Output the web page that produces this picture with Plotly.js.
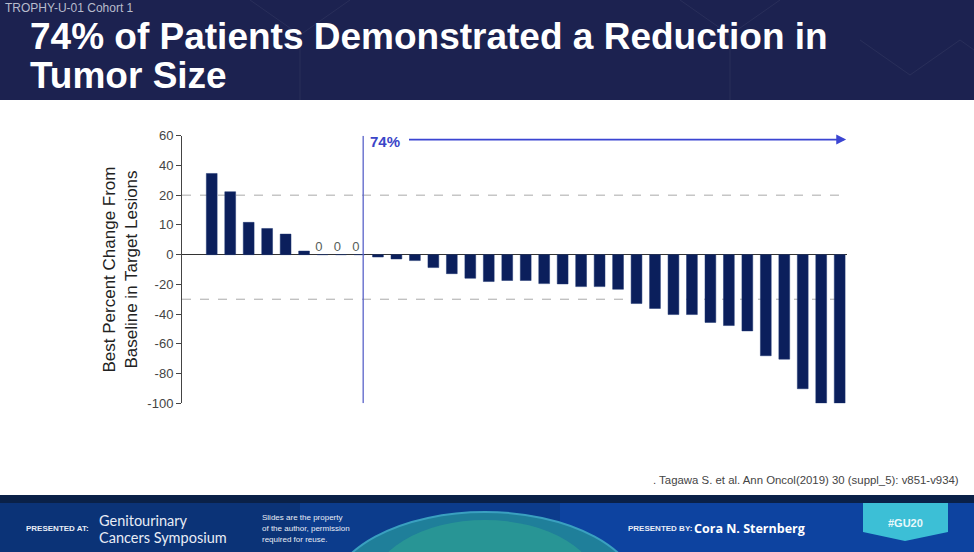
<!DOCTYPE html>
<html><head><meta charset="utf-8">
<script src="https://cdn.plot.ly/plotly-3.0.1.min.js"></script>
<style>html,body{margin:0;padding:0;background:#fff}#chart{width:974px;height:552px}</style>
</head><body><div id="chart"></div><script>
// Patients (one bar each), ordered as in the waterfall plot
const patientIds = [1,2,3,4,5,6,7,8,9,10,11,12,13,14,15,16,17,18,19,20,21,22,23,24,25,26,27,28,29,30,31,32,33,34,35];
// Best % change, in the plot's own axis units (positive side uses the printed tick labels below)
const bestChange = [54.6,42.3,21.7,17.6,13.8,2.4,0,0,0,-1.6,-2.9,-4,-8.7,-12.8,-15.9,-18.1,-17.4,-17.4,-19.5,-19.7,-21.5,-21.5,-23.3,-32.9,-36.2,-40.3,-40.3,-45.6,-47.7,-51.3,-68,-70.3,-90.2,-100,-100];
// Y axis ticks as printed on the slide
const yTickVals = [-100,-80,-60,-40,-20,0,20,40,60,80];
const yTickText = ['-100','-80','-60','-40','-20','0','10','20','40','60'];
const refLines = [40, -30];   // dashed reference lines (printed "20" and -30)
const responderPct = '74%';

const zeroIds = patientIds.filter((id,i)=>bestChange[i]===0);
const zeroVals = bestChange.filter(v=>v===0);

const W=974,H=552;
const px = x=>x/W, py = y=>1-y/H;

const traces = [
  {type:'bar', x:patientIds, y:bestChange, width:0.585,
   marker:{color:'#0b1f5c', line:{color:'#1d3470', width:0.5}}, hoverinfo:'x+y'},
  {type:'scatter', mode:'text', x:zeroIds, y:zeroVals, text:zeroVals.map(String),
   textposition:'top left', textfont:{family:'Liberation Sans, Arial, sans-serif', size:13, color:'#56605a'},
   hoverinfo:'skip'}
];

const shapes = [
  // header band
  {type:'rect', xref:'paper', yref:'paper', x0:0, x1:1, y0:py(100), y1:1, fillcolor:'#1c2250', line:{width:0}, layer:'below'},
  // faint header pattern
  {type:'path', xref:'paper', yref:'paper', path:`M ${px(250)} ${py(0)} L ${px(300)} ${py(35)} L ${px(300)} ${py(100)} M ${px(300)} ${py(35)} L ${px(350)} ${py(0)}`, line:{color:'rgba(255,255,255,0.06)', width:1}, layer:'below'},
  {type:'path', xref:'paper', yref:'paper', path:`M ${px(680)} ${py(0)} L ${px(730)} ${py(35)} L ${px(730)} ${py(100)} M ${px(730)} ${py(35)} L ${px(780)} ${py(0)}`, line:{color:'rgba(255,255,255,0.06)', width:1}, layer:'below'},
  {type:'path', xref:'paper', yref:'paper', path:`M ${px(860)} ${py(40)} L ${px(910)} ${py(75)} L ${px(960)} ${py(40)} L ${px(974)} ${py(50)}`, line:{color:'rgba(255,255,255,0.06)', width:1}, layer:'below'},
  // footer
  {type:'rect', xref:'paper', yref:'paper', x0:0, x1:1, y0:0, y1:py(495), fillcolor:'#0c3c8c', line:{width:0}, layer:'below'},
  {type:'rect', xref:'paper', yref:'paper', x0:0, x1:px(300), y0:0, y1:py(503), fillcolor:'#0b3377', line:{width:0}, layer:'below'},
  {type:'rect', xref:'paper', yref:'paper', x0:px(560), x1:1, y0:0, y1:py(503), fillcolor:'#0d43a0', line:{width:0}, layer:'below'},
  {type:'circle', xref:'paper', yref:'paper', x0:px(330), x1:px(640), y0:py(680), y1:py(512), fillcolor:'#1f7f9a', line:{color:'#3aa0c0', width:2}, layer:'below'},
  {type:'circle', xref:'paper', yref:'paper', x0:px(370), x1:px(600), y0:py(660), y1:py(520), fillcolor:'#2a9b93', line:{width:0}, opacity:0.8, layer:'below'},
  {type:'rect', xref:'paper', yref:'paper', x0:0, x1:1, y0:py(503), y1:py(495), fillcolor:'#0a2148', line:{width:0}, layer:'below'},
  // #GU20 badge
  {type:'path', xref:'paper', yref:'paper', path:`M ${px(863)} ${py(503)} L ${px(948)} ${py(503)} L ${px(948)} ${py(532)} L ${px(905)} ${py(541)} L ${px(863)} ${py(532)} Z`, fillcolor:'#3cbfd6', line:{width:0}, layer:'below'},
  // reference dashed lines
  ...refLines.map(v=>({type:'line', xref:'x', yref:'y', x0:-0.61, x1:35.3, y0:v, y1:v, line:{color:'#a9a9a9', width:1, dash:'dash'}, layer:'below'})),
  // responder divider
  {type:'line', xref:'x', yref:'y', x0:9.2, x1:9.2, y0:-100, y1:80, line:{color:'#5a63c9', width:1.3}}
];

const F = 'Liberation Sans, Arial, sans-serif';
const ann = (x,y,text,opt)=>Object.assign({xref:'paper', yref:'paper', x:px(x), y:py(y), text, showarrow:false, xanchor:'left', yanchor:'middle', font:{family:F, size:12, color:'#fff'}}, opt||{});

const annotations = [
  ann(3,8,'TROPHY-U-01 Cohort 1',{font:{family:F,size:12,color:'#b8bccc'}}),
  ann(28,37,'<b>74% of Patients Demonstrated a Reduction in</b>',{font:{family:F,size:37,color:'#fff'}}),
  ann(28,76,'<b>Tumor Size</b>',{font:{family:F,size:37,color:'#fff'}}),
  // arrow
  {xref:'x', yref:'y', x:35.35, y:77.4, ax:11.6, ay:77.4, axref:'x', ayref:'y', text:'', showarrow:true, arrowhead:2, arrowsize:1.1, arrowwidth:1.8, arrowcolor:'#3b45d2'},
  {xref:'x', yref:'y', x:10.4, y:76.2, text:'<b>'+responderPct+'</b>', showarrow:false, xanchor:'center', yanchor:'middle', font:{family:F,size:15,color:'#3b45c8'}},
  ann(961,480,'. Tagawa S. et al. Ann Oncol(2019) 30 (suppl_5): v851-v934)',{xanchor:'right', font:{family:F,size:11.4,color:'#444'}}),
  ann(24,528,'<b>PRESENTED AT:</b>',{font:{family:F,size:8,color:'#e8ecf5'}}),
  ann(97,520,'Genitourinary',{font:{family:'Lato, Open Sans, sans-serif',size:14.5,color:'#e8ecf5'}}),
  ann(97,537,'Cancers Symposium',{font:{family:'Lato, Open Sans, sans-serif',size:14.5,color:'#e8ecf5'}}),
  ann(260,517,'Slides are the property',{font:{family:F,size:8,color:'#e8ecf5'}}),
  ann(260,528,'of the author, permission',{font:{family:F,size:8,color:'#e8ecf5'}}),
  ann(260,539,'required for reuse.',{font:{family:F,size:8,color:'#e8ecf5'}}),
  ann(626,528,'<b>PRESENTED BY:</b>',{font:{family:F,size:8,color:'#e8ecf5'}}),
  ann(692,528,'<b>Cora N. Sternberg</b>',{font:{family:'Open Sans, sans-serif',size:12.5,color:'#ffffff'}}),
  ann(905,523,'<b>#GU20</b>',{xanchor:'center', font:{family:F,size:11,color:'#e8f8fb'}})
];

const layout = {
  width:W, height:H, margin:{l:0,r:0,t:0,b:0}, paper_bgcolor:'#fff', plot_bgcolor:'rgba(0,0,0,0)',
  showlegend:false, bargap:0,
  xaxis:{domain:[px(182), px(846.7)], range:[-0.61, 35.38], showticklabels:false, showgrid:false, zeroline:false, showline:false, ticks:'', fixedrange:true},
  yaxis:{domain:[py(403.3), py(135.7)], range:[-100, 80], tickvals:yTickVals, ticktext:yTickText, showgrid:false,
    zeroline:true, zerolinecolor:'#333', zerolinewidth:1, showline:true, linecolor:'#444', linewidth:1,
    ticks:'outside', ticklen:5, tickcolor:'#444', tickfont:{family:F, size:13, color:'#444'},
    title:{text:'Best Percent Change From<br>Baseline in Target Lesions', font:{family:F, size:17, color:'#222'}, standoff:5}},
  shapes, annotations
};
Plotly.newPlot('chart', traces, layout, {staticPlot:true, displayModeBar:false});
</script></body></html>
